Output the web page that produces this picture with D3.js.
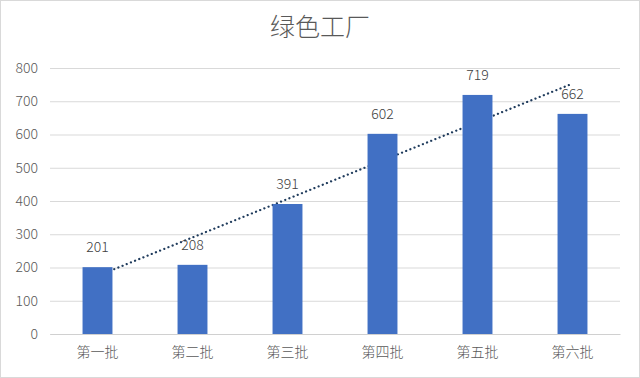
<!DOCTYPE html>
<html><head><meta charset="utf-8">
<script src="https://cdn.jsdelivr.net/npm/d3@7"></script>
<style>html,body{margin:0;padding:0;background:#fff;}svg{display:block;}</style>
</head><body>
<script>
const title = "绿色工厂";
const categories = ["第一批","第二批","第三批","第四批","第五批","第六批"];
const values = [201, 208, 391, 602, 719, 662];
const yTicks = [0,100,200,300,400,500,600,700,800];

const W = 640, H = 378;
const margin = {left: 50, right: 20, top: 68, bottom: 44};
const svg = d3.select("body").append("svg").attr("width", W).attr("height", H);
const font = "'Noto Sans CJK SC','Microsoft YaHei',sans-serif";

svg.append("rect").attr("x",0.5).attr("y",0.5).attr("width",W-1).attr("height",H-1)
  .attr("fill","#fff").attr("stroke","#d9d9d9");

const x = d3.scaleBand().domain(categories).range([margin.left, W - margin.right]).paddingInner(0.685).paddingOuter(0.3425);
const y = d3.scaleLinear().domain([0, 800]).range([H - margin.bottom, margin.top]);

// title
svg.append("text").attr("x", W/2).attr("y", 36).attr("text-anchor","middle")
  .attr("font-family", font).attr("font-size", 25).attr("font-weight", 300).attr("fill","#595959").text(title);

// gridlines
const yAxis = d3.axisLeft(y).tickValues(yTicks).tickSize(-(W - margin.left - margin.right)).tickPadding(12);
const gy = svg.append("g").attr("transform", `translate(${margin.left},0)`).call(yAxis);
gy.select(".domain").remove();
gy.selectAll(".tick line").attr("stroke","#d9d9d9");
gy.selectAll(".tick text").attr("font-family", font).attr("font-size", 14).attr("font-weight", 300).attr("fill","#595959");

// x axis
const xAxis = d3.axisBottom(x).tickSize(0).tickPadding(13);
const gx = svg.append("g").attr("transform", `translate(0,${y(0)})`).call(xAxis);
gx.select(".domain").attr("stroke","#d0d0d0");
gx.selectAll(".tick text").attr("font-family", font).attr("font-size", 14).attr("font-weight", 300).attr("fill","#595959");

// trendline (linear regression), drawn behind bars
const n = values.length;
const xs = values.map((_, i) => i + 1);
const mx = d3.mean(xs), my = d3.mean(values);
const slope = d3.sum(xs.map((xi, i) => (xi - mx) * (values[i] - my))) / d3.sum(xs.map(xi => (xi - mx) ** 2));
const icpt = my - slope * mx;
const cx = c => x(c) + x.bandwidth()/2;
svg.append("line")
  .attr("x1", cx(categories[0])).attr("y1", y(icpt + slope * 1))
  .attr("x2", cx(categories[n-1])).attr("y2", y(icpt + slope * n))
  .attr("stroke","#1f3b5c").attr("stroke-width", 2.2).attr("stroke-dasharray","0.1,4.4").attr("stroke-linecap","round");

// bars
svg.selectAll("rect.bar").data(values).join("rect").attr("class","bar")
  .attr("x", (d,i) => x(categories[i])).attr("width", x.bandwidth())
  .attr("y", d => y(d)).attr("height", d => y(0) - y(d)).attr("fill","#4170c4");

// value labels
svg.selectAll("text.val").data(values).join("text").attr("class","val")
  .attr("x", (d,i) => cx(categories[i])).attr("y", d => y(d) - 15)
  .attr("text-anchor","middle").attr("font-family", font).attr("font-size", 14).attr("font-weight", 300).attr("fill","#404040")
  .text(d => d);
</script>
</body></html>
